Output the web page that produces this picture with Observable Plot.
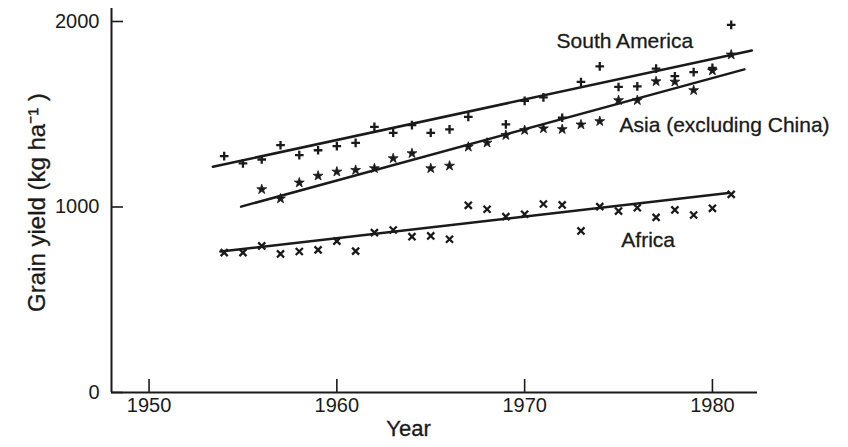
<!DOCTYPE html>
<html><head><meta charset="utf-8">
<script src="https://cdn.jsdelivr.net/npm/d3@7"></script>
<script src="https://cdn.jsdelivr.net/npm/@observablehq/plot@0.6"></script>
<style>body{margin:0;background:#fff;} #chart svg{display:block;}</style>
</head><body><div id="chart"></div>
<script>
// Years of observation
const years = [1954,1955,1956,1957,1958,1959,1960,1961,1962,1963,1964,1965,1966,1967,
               1968,1969,1970,1971,1972,1973,1974,1975,1976,1977,1978,1979,1980,1981];
// Grain yield (kg/ha)
const southAmerica = [1274,1235,1256,1333,1280,1306,1328,1346,1432,1400,1441,1400,1418,1486,
                      null,1445,1572,1591,1481,1674,1758,1647,1650,1746,1705,1727,1750,1982];
const asia = [null,null,1095,1045,1131,1168,1190,1199,1208,1262,1289,1208,1222,1324,
              1346,1387,1414,1423,1419,1444,1462,1575,1575,1677,1675,1629,1735,1821];
const africa = [754,754,790,747,760,769,816,762,862,876,840,844,826,1009,
                988,948,961,1016,1011,871,1002,978,996,944,984,957,993,1068];
// Fitted trend lines (start/end year and yield)
const trendYears = {sa: [1953.4, 1982.1], asia: [1954.9, 1981.7], africa: [1953.8, 1980.85]};
const trendSA = [1217, 1844];
const trendAsia = [1002, 1742];
const trendAfrica = [760, 1075];
// Series labels
const seriesNames = ["South America", "Asia (excluding China)", "Africa"];
const labelYears = [1971.7, 1975.05, 1975.15];
const labelYields = [1895, 1442, 819];
// Axis ticks
const xTicks = [1950, 1960, 1970, 1980];
const yTicks = [0, 1000, 2000];

const rows = years.map((year, i) => ({year, sa: southAmerica[i], asia: asia[i], africa: africa[i]}));
const trend = (ys, vs) => ys.map((x, i) => ({x, y: vs[i]}));
const labels = seriesNames.map((name, i) => ({name, x: labelYears[i], y: labelYields[i]}));

const ink = "#1a1a1a";
const chart = Plot.plot({
  width: 848, height: 447,
  marginLeft: 111, marginRight: 91, marginTop: 8, marginBottom: 55,
  style: {fontFamily: "'Liberation Sans', Arial, Helvetica, sans-serif", fontSize: "20px", color: ink, background: "#fff", overflow: "visible"},
  x: {domain: [1948, 1982.4]},
  y: {domain: [0, 2070]},
  marks: [
    Plot.axisX({ticks: xTicks, tickSize: 0, tickPadding: 5, label: null, tickFormat: d => `${d}`, fontSize: 20}),
    Plot.axisY({ticks: yTicks, tickSize: 0, tickPadding: 12, label: null, tickFormat: d => `${d}`, fontSize: 20}),
    Plot.tickX(xTicks, {x: d => d, insetTop: 371, stroke: ink, strokeWidth: 1.6}),
    Plot.tickY(yTicks, {y: d => d, insetRight: 634, stroke: ink, strokeWidth: 1.6}),
    Plot.ruleY([0], {stroke: ink, strokeWidth: 2}),
    Plot.ruleX([1948], {stroke: ink, strokeWidth: 2}),
    Plot.line(trend(trendYears.sa, trendSA), {x: "x", y: "y", stroke: ink, strokeWidth: 2.5}),
    Plot.line(trend(trendYears.asia, trendAsia), {x: "x", y: "y", stroke: ink, strokeWidth: 2.5}),
    Plot.line(trend(trendYears.africa, trendAfrica), {x: "x", y: "y", stroke: ink, strokeWidth: 2.5}),
    Plot.dot(rows.filter(d => d.sa != null), {x: "year", y: "sa", symbol: "plus", r: 2.9, stroke: ink, strokeWidth: 2.3}),
    Plot.dot(rows.filter(d => d.asia != null), {x: "year", y: "asia", symbol: "star", r: 3.1, fill: ink, stroke: ink, strokeWidth: 0.8}),
    Plot.dot(rows.filter(d => d.africa != null), {x: "year", y: "africa", symbol: "times", r: 3.3, stroke: ink, strokeWidth: 2.3}),
    Plot.text(labels, {x: "x", y: "y", text: "name", textAnchor: "start", fontSize: 21, fill: ink, stroke: ink, strokeWidth: 0.3}),
    Plot.text(["Grain yield (kg ha\u207B\u00B9 )"], {frameAnchor: "left", textAnchor: "middle", rotate: -90, dx: -74, dy: 2, fontSize: 24, fill: ink, stroke: ink, strokeWidth: 0.3, style: "letter-spacing:2.2px"}),
    Plot.text(["Year"], {frameAnchor: "bottom", textAnchor: "middle", dx: -26, dy: 43, fontSize: 22, fill: ink, stroke: ink, strokeWidth: 0.3})
  ]
});
document.getElementById("chart").appendChild(chart);
</script>
</body></html>
